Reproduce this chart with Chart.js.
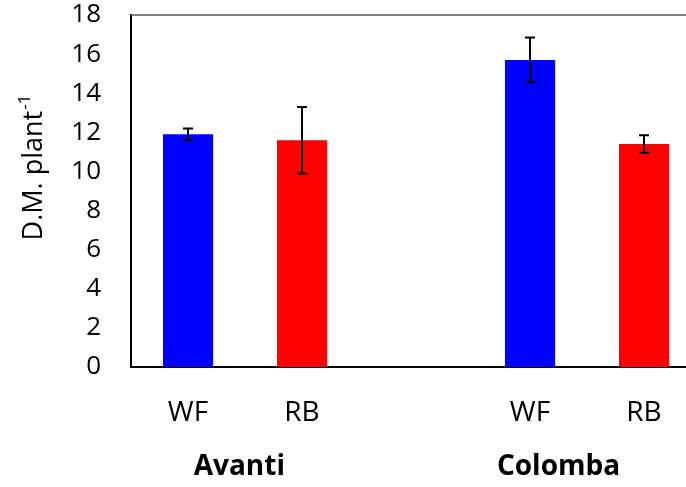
<!DOCTYPE html>
<html>
<head>
<meta charset="utf-8">
<script src="https://cdn.jsdelivr.net/npm/chart.js@4/dist/chart.umd.min.js"></script>
<style>
  html, body { margin: 0; padding: 0; background: #fff; overflow: hidden; }
  #wrap { width: 686px; height: 487px; overflow: hidden; }
</style>
</head>
<body>
<div id="wrap"><canvas id="myChart" width="720" height="487"></canvas></div>
<script>
// categories (blank slot separates the two cultivars)
var labels = ['WF', 'RB', '', 'WF', 'RB']
var values = [11.9, 11.6, null, 15.7, 11.4]
var errors = [0.3, 1.7, null, 1.15, 0.45]
var colors = ['#0000FF', '#FF0000', '#FFFFFF', '#0000FF', '#FF0000']
var groups = ['Avanti', 'Colomba']
var groupPos = [0.45, 3.25]   // position in category units
var yTicks = [0, 2, 4, 6, 8, 10, 12, 14, 16, 18]

var FONT = "'Open Sans', 'Liberation Sans', sans-serif"

// error bars, top frame line, group names and the y title
var extras = {
    id: 'extras',
    afterDatasetsDraw: function (chart) {
        var ctx = chart.ctx
        var x = chart.scales.x, y = chart.scales.y
        var area = chart.chartArea
        ctx.save()
        ctx.strokeStyle = '#000'
        ctx.lineWidth = 2
        for (var i = 0; i < values.length; i++) {
            if (values[i] == null) continue
            var px = x.getPixelForValue(i)
            var top = y.getPixelForValue(values[i] + errors[i])
            var bot = y.getPixelForValue(values[i] - errors[i])
            ctx.beginPath()
            ctx.moveTo(px, top); ctx.lineTo(px, bot)
            ctx.moveTo(px - 5, top); ctx.lineTo(px + 5, top)
            ctx.moveTo(px - 5, bot); ctx.lineTo(px + 5, bot)
            ctx.stroke()
        }
        // frame top
        ctx.strokeStyle = '#595959'
        ctx.lineWidth = 1.5
        ctx.beginPath()
        ctx.moveTo(area.left, area.top)
        ctx.lineTo(area.right, area.top)
        ctx.stroke()

        // cultivar names
        var slot = x.getPixelForValue(1) - x.getPixelForValue(0)
        var p0 = x.getPixelForValue(0)
        ctx.fillStyle = '#000'
        ctx.font = 'bold 28px ' + FONT
        ctx.textAlign = 'center'
        ctx.textBaseline = 'middle'
        for (var g = 0; g < groups.length; g++) {
            ctx.fillText(groups[g], p0 + groupPos[g] * slot, 467)
        }

        // y axis title with superscript
        ctx.translate(32, 168)
        ctx.rotate(-Math.PI / 2)
        ctx.font = '27px ' + FONT
        var main = 'D.M. plant'
        var w1 = ctx.measureText(main).width
        ctx.font = '17px ' + FONT
        var w2 = ctx.measureText('-1').width
        var start = -(w1 + w2) / 2
        ctx.textAlign = 'left'
        ctx.textBaseline = 'alphabetic'
        ctx.font = '27px ' + FONT
        ctx.fillText(main, start, 10)
        ctx.font = '17px ' + FONT
        ctx.fillText('-1', start + w1 + 1, -2)
        ctx.restore()
    }
}

function Graphic() {
    var ctx = document.getElementById('myChart')
    new Chart(ctx, {
        type: 'bar',
        data: {
            labels: labels,
            datasets: [{
                data: values,
                backgroundColor: colors,
                borderWidth: 0,
                barPercentage: 0.44,
                categoryPercentage: 1
            }]
        },
        options: {
            responsive: false,
            animation: false,
            events: [],
            layout: { padding: { top: 15, right: 19, left: 0, bottom: 0 } },
            plugins: { legend: { display: false }, tooltip: { enabled: false } },
            scales: {
                x: {
                    z: 1,
                    grid: { display: false, drawTicks: false },
                    border: { color: '#000', width: 2 },
                    ticks: { color: '#000', font: { family: FONT, size: 28 }, padding: 29, maxRotation: 0 },
                    afterFit: function (s) { s.height = 120; s.paddingLeft = 0; s.paddingRight = 0 }
                },
                y: {
                    min: 0,
                    max: 18,
                    grid: { display: false, drawTicks: false },
                    border: { color: '#000', width: 2 },
                    afterBuildTicks: function (s) {
                        s.ticks = yTicks.map(function (v) { return { value: v } })
                    },
                    ticks: { color: '#000', font: { family: FONT, size: 26 }, padding: 30 },
                    afterFit: function (s) { s.width = 131; s.paddingTop = 0; s.paddingBottom = 0 }
                }
            }
        },
        plugins: [extras]
    })
}

window.addEventListener('load', Graphic)
</script>
</body>
</html>
